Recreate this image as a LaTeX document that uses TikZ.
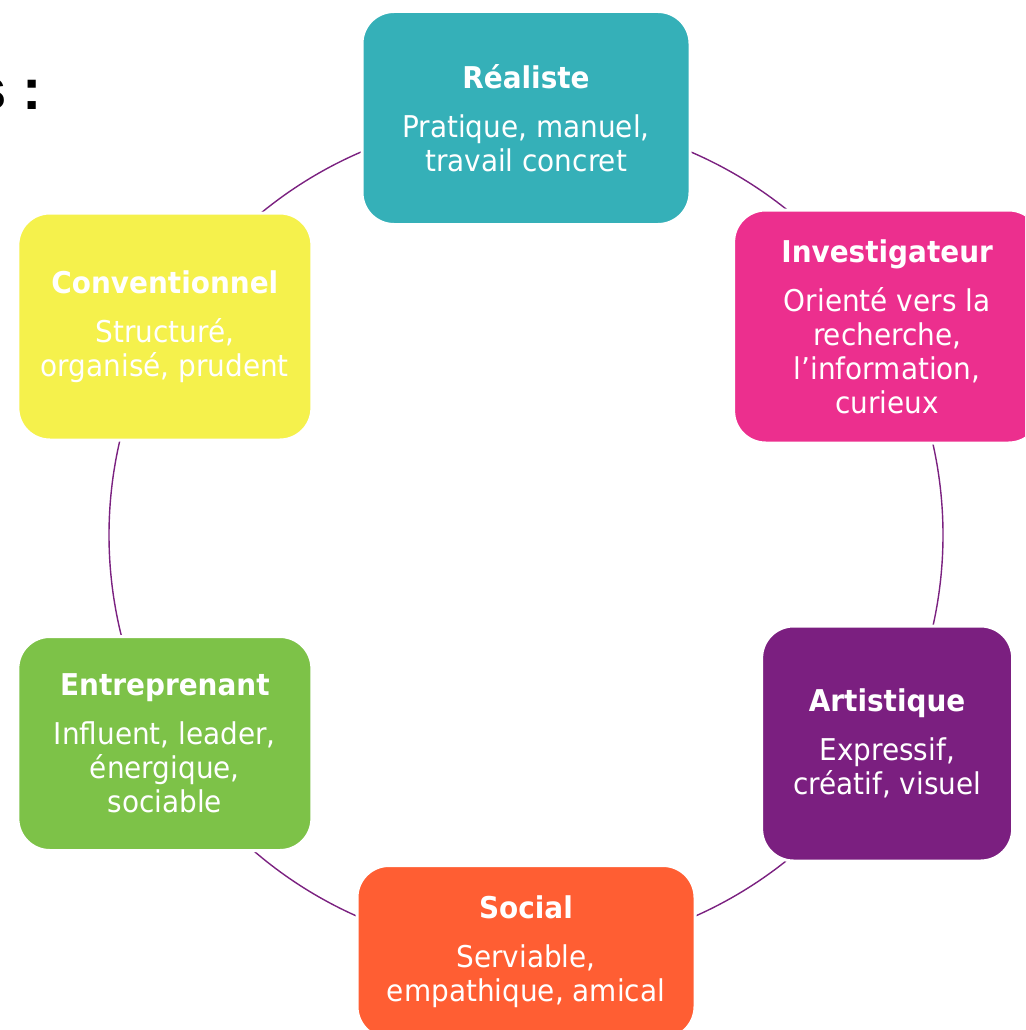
\documentclass[tikz,border=0pt]{standalone}
\usepackage{fontspec}
\setmainfont{DejaVu Sans}[FakeStretch=0.93]
\newfontfamily\headfont{Liberation Sans}
\usetikzlibrary{calc}
\usetikzlibrary{backgrounds}
\definecolor{realcol}{RGB}{53,176,184}
\definecolor{investcol}{RGB}{236,47,142}
\definecolor{artcol}{RGB}{123,31,128}
\definecolor{socialcol}{RGB}{255,94,51}
\definecolor{entrecol}{RGB}{125,194,72}
\definecolor{convcol}{RGB}{245,241,76}
\definecolor{ringcol}{RGB}{123,33,128}

\begin{document}
\begin{tikzpicture}[x=1pt,y=1pt,
  typebox/.style={rounded corners=32pt, draw=white, line width=3pt, text=white,
    align=center, inner sep=0pt, font=\fontsize{30}{34}\selectfont},
  ring/.style={draw=ringcol, line width=1.4pt}]
  \useasboundingbox (0,0) rectangle (1025,-1030);
  \clip (0,0) rectangle (1025,-1030);
  \coordinate (ctr) at (526,-535);

  %% partial heading
  \node[font=\headfont\bfseries\fontsize{58}{58}\selectfont, anchor=base east, inner sep=0pt] (titre) at (42,-110) {s :};

  %% the six types
  \node[typebox, fill=realcol, minimum width=328pt, minimum height=213pt] (realiste) at ([shift={(90:417)}]ctr)
    {\textbf{Réaliste}\\[15pt] Pratique, manuel,\\ travail concret};
  \node[typebox, fill=investcol, minimum width=307pt, minimum height=233pt] (investigateur) at ([shift={(30:417)}]ctr)
    {\textbf{Investigateur}\\[15pt] Orienté vers la\\ recherche,\\ l’information,\\ curieux};
  \node[typebox, fill=artcol, minimum width=251pt, minimum height=235pt] (artistique) at ([shift={(-30:417)}]ctr)
    {\textbf{Artistique}\\[15pt] Expressif,\\ créatif, visuel};
  \node[typebox, fill=socialcol, minimum width=338pt, minimum height=173pt] (social) at ([shift={(-90:417)}]ctr)
    {\textbf{Social}\\[15pt] Serviable,\\ empathique, amical};
  \node[typebox, fill=entrecol, minimum width=294pt, minimum height=214pt] (entreprenant) at ([shift={(-150:417)}]ctr)
    {\textbf{Entreprenant}\\[15pt] Influent, leader,\\ énergique,\\ sociable};
  \node[typebox, fill=convcol, minimum width=294pt, minimum height=227pt] (conventionnel) at ([shift={(-210:417)}]ctr)
    {\textbf{Conventionnel}\\[15pt] Structuré,\\ organisé, prudent};

  %% ring behind the boxes
  \begin{scope}[on background layer]
    \foreach \a/\n in {90/realiste,30/investigateur,-30/artistique,-90/social,-150/entreprenant,-210/conventionnel}
      \draw[ring] (\n.center) arc[start angle=\a, end angle=\a-60, radius=417pt];
  \end{scope}
\end{tikzpicture}
\end{document}
